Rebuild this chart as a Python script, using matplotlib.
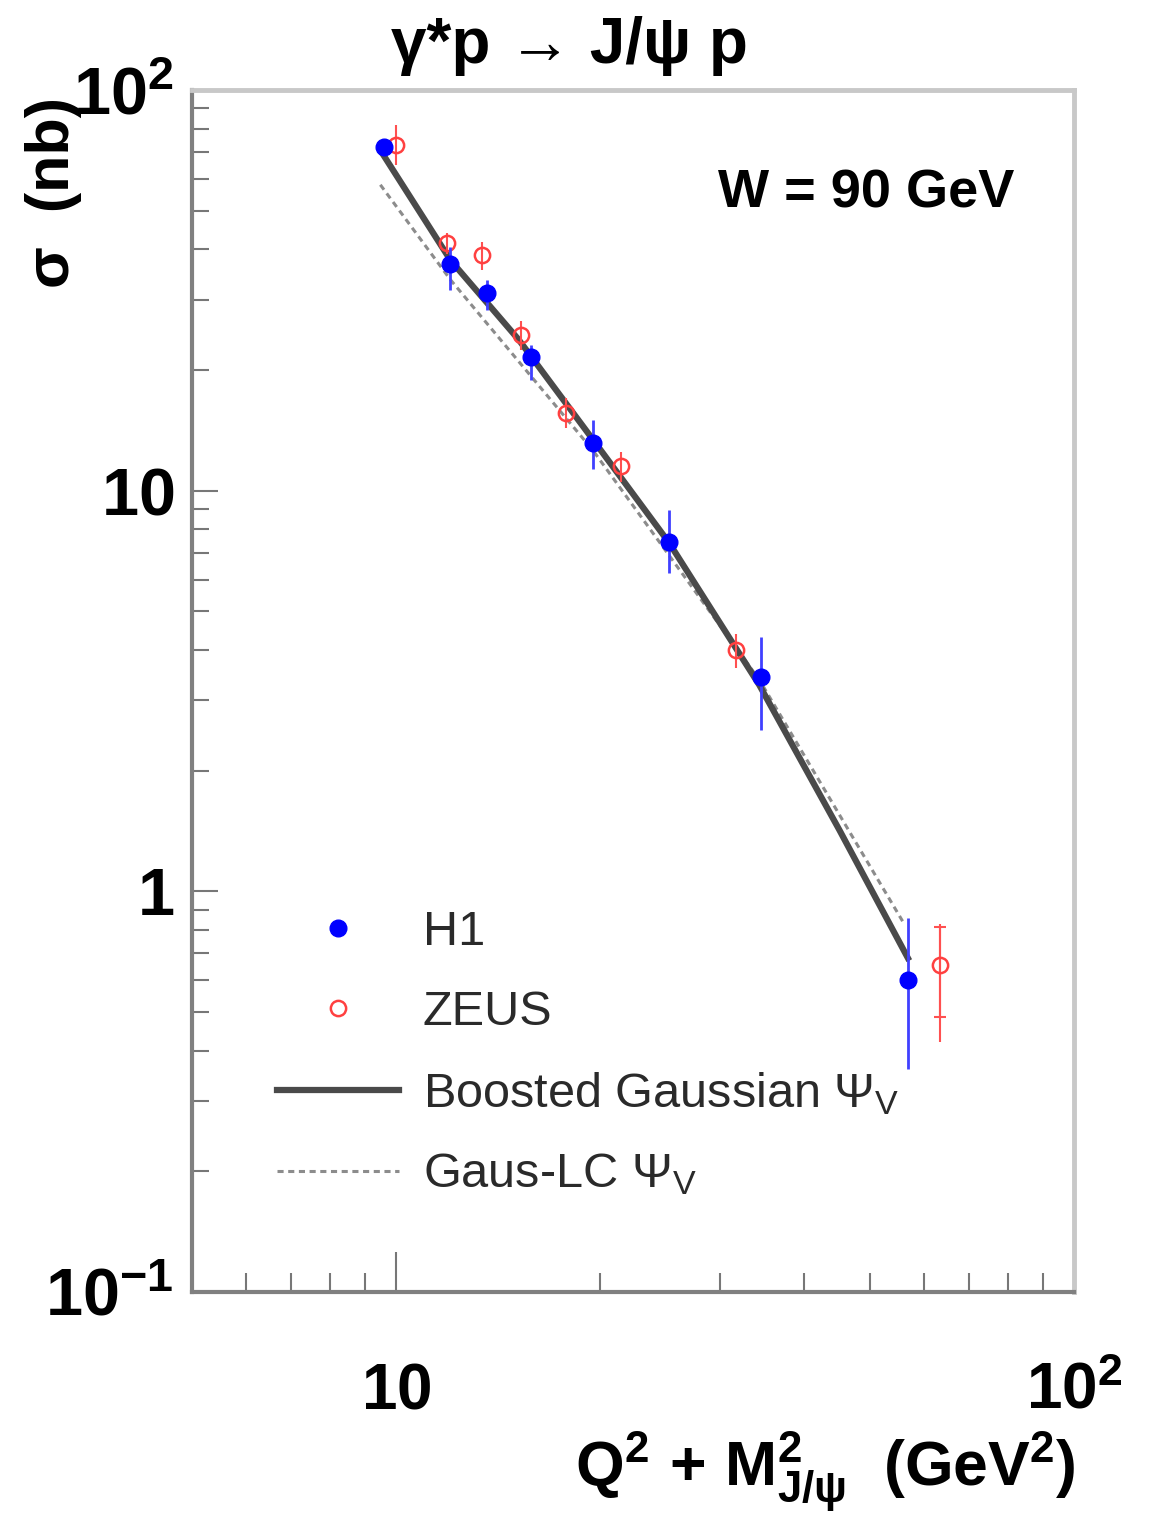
import matplotlib
matplotlib.use('Agg')
import matplotlib.pyplot as plt
from matplotlib import ticker

plt.rcParams['font.family'] = ['Liberation Sans', 'DejaVu Sans']
plt.rcParams['mathtext.fontset'] = 'custom'
plt.rcParams['mathtext.rm'] = 'Liberation Sans'
plt.rcParams['mathtext.bf'] = 'Liberation Sans:bold'
plt.rcParams['mathtext.it'] = 'Liberation Sans:italic'

# H1 points
h1_x = [9.6, 12.0, 13.6, 15.8, 19.5, 25.3, 34.5, 56.9]
h1_y = [72.0, 36.8, 31.1, 21.6, 13.15, 7.45, 3.43, 0.60]
h1_up = [75.0, 40.6, 33.6, 23.1, 15.0, 8.95, 4.31, 0.86]
h1_dn = [69.0, 31.7, 28.2, 18.9, 11.3, 6.23, 2.53, 0.36]

# ZEUS points
zeus_x = [10.0, 11.9, 13.4, 15.3, 17.8, 21.5, 31.7, 63.4]
zeus_y = [72.9, 41.5, 38.7, 24.5, 15.6, 11.5, 4.0, 0.655]
zeus_up = [81.8, 44.0, 41.8, 26.5, 17.0, 12.5, 4.4, 0.83]
zeus_dn = [65.0, 39.0, 35.6, 22.5, 14.3, 10.5, 3.6, 0.42]
# stat. error ticks (only visible on the last point)
zeus_stat_x = [63.4]
zeus_stat_y = [0.655]
zeus_stat_up = [0.815]
zeus_stat_dn = [0.486]

# model curves
bg_x = [9.58, 12.03, 15.17, 19.52, 25.28, 34.35, 45.1, 56.87]
bg_y = [68.8, 37.6, 23.8, 13.4, 7.41, 3.27, 1.42, 0.682]
lc_x = [9.48, 12.03, 19.52, 34.35, 56.3]
lc_y = [58.0, 33.6, 12.6, 3.37, 0.824]

x_major = [10, 100]
x_major_labels = [r'$\mathbf{10}$', r'$\mathbf{10^{2}}$']
x_minor = [6, 7, 8, 9, 20, 30, 40, 50, 60, 70, 80, 90]
y_major = [0.1, 1, 10, 100]
y_major_labels = [r'$\mathbf{10^{-1}}$', r'$\mathbf{1}$', r'$\mathbf{10}$', r'$\mathbf{10^{2}}$']

fig = plt.figure(figsize=(11.68, 15.18), dpi=100)
ax = fig.add_axes([192 / 1168, 1 - 1292 / 1518, 882 / 1168, 1202 / 1518])
ax.set_xscale('log')
ax.set_yscale('log')
ax.set_xlim(5, 100)
ax.set_ylim(0.1, 100)

# curves
ax.plot(lc_x, lc_y, color='#8c8c8c', lw=2.2, ls=(0, (2, 1.5)), label=r'Gaus-LC $\Psi_{\mathrm{V}}$', zorder=2)
ax.plot(bg_x, bg_y, color='#4a4a4a', lw=4.5, label=r'Boosted Gaussian $\Psi_{\mathrm{V}}$', zorder=3)

# ZEUS
zerr = [[y - d for y, d in zip(zeus_y, zeus_dn)], [u - y for y, u in zip(zeus_y, zeus_up)]]
ax.errorbar(zeus_x, zeus_y, yerr=zerr, fmt='none', ecolor='#ff5050', elinewidth=1.5, zorder=4)
serr = [[y - d for y, d in zip(zeus_stat_y, zeus_stat_dn)], [u - y for y, u in zip(zeus_stat_y, zeus_stat_up)]]
ax.errorbar(zeus_stat_x, zeus_stat_y, yerr=serr, fmt='none', ecolor='#ff5050', elinewidth=1.5,
            capsize=4, capthick=1.5, zorder=4)
ax.plot(zeus_x, zeus_y, 'o', ms=11, mfc='none', mec='#ff4040', mew=1.8, label='ZEUS', zorder=5)

# H1
herr = [[y - d for y, d in zip(h1_y, h1_dn)], [u - y for y, u in zip(h1_y, h1_up)]]
ax.errorbar(h1_x, h1_y, yerr=herr, fmt='none', ecolor='#4040ff', elinewidth=2, zorder=6)
ax.plot(h1_x, h1_y, 'o', ms=12, color='blue', mec='blue', label='H1', zorder=7)

# axes style
ax.xaxis.set_major_locator(ticker.FixedLocator(x_major))
ax.xaxis.set_major_formatter(ticker.FixedFormatter(x_major_labels))
ax.xaxis.set_minor_locator(ticker.FixedLocator(x_minor))
ax.xaxis.set_minor_formatter(ticker.NullFormatter())
ax.yaxis.set_major_locator(ticker.FixedLocator(y_major))
ax.yaxis.set_major_formatter(ticker.FixedFormatter(y_major_labels))
ax.yaxis.set_minor_locator(ticker.LogLocator(base=10, subs=range(2, 10)))
ax.yaxis.set_minor_formatter(ticker.NullFormatter())

ax.tick_params(axis='x', which='major', direction='in', length=29, width=1.5, color='#777777',
               labelsize=46, pad=50)
ax.tick_params(axis='x', which='minor', direction='in', length=14, width=1.5, color='#777777')
ax.tick_params(axis='y', which='major', direction='in', length=19, width=1.5, color='#777777',
               labelsize=48, pad=13)
ax.tick_params(axis='y', which='minor', direction='in', length=12, width=1.5, color='#777777')
for s in ['left', 'bottom']:
    ax.spines[s].set_color('#808080')
    ax.spines[s].set_linewidth(3)
for s in ['top', 'right']:
    ax.spines[s].set_color('#c8c8c8')
    ax.spines[s].set_linewidth(3.5)

ax.text(0.596, 0.914, 'W = 90 GeV', transform=ax.transAxes, fontsize=39, fontweight='bold',
        ha='left', va='center')

# legend
handles, labels = ax.get_legend_handles_labels()
order = [labels.index('H1'), labels.index('ZEUS'),
         labels.index(r'Boosted Gaussian $\Psi_{\mathrm{V}}$'), labels.index(r'Gaus-LC $\Psi_{\mathrm{V}}$')]
ax.legend([handles[i] for i in order], [labels[i] for i in order],
          loc='upper left', bbox_to_anchor=(277 / 1168, 1 - 910 / 1518), bbox_transform=fig.transFigure,
          frameon=False, fontsize=35, handlelength=2.5, handletextpad=0.5, labelspacing=0.72,
          borderpad=0, borderaxespad=0, numpoints=1, labelcolor='#2a2a2a')

fig.text(569 / 1168, 1 - 46 / 1518, 'γ*p → J/ψ p', fontsize=46, fontweight='bold',
         ha='center', va='center')
fig.text(54 / 1168, 1 - 192 / 1518, 'σ  (nb)', fontsize=44, fontweight='bold', rotation=90,
         ha='center', va='center')
fig.text(1075 / 1168, 1 - 1486 / 1518, r'$\mathbf{Q^{2}\,+\,M^{2}_{J/\psi}\ \ (GeV^{2})}$',
         fontsize=45, ha='right', va='baseline')

fig.savefig('out.png', dpi=100)
